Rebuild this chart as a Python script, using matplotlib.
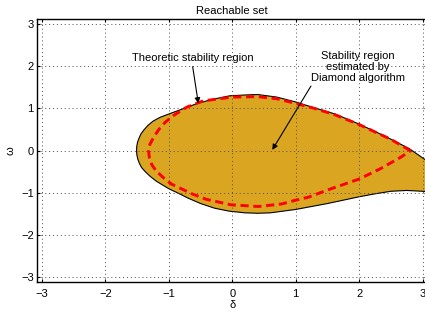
import matplotlib
matplotlib.use('Agg')
import matplotlib.pyplot as plt

plt.rcParams['font.family'] = ['Liberation Sans', 'DejaVu Sans']
plt.rcParams['font.size'] = 8

# Borde superior de la region alcanzable (izquierda -> derecha)
upper_x = [-1.51, -1.507, -1.495, -1.47, -1.44, -1.39, -1.33, -1.25, -1.14, -1.00,
           -0.80, -0.55, -0.30, -0.04, 0.21, 0.40, 0.70, 1.01, 1.26, 1.62,
           2.00, 2.40, 2.79, 3.05, 3.20]
upper_y = [0.00, 0.10, 0.20, 0.30, 0.40, 0.50, 0.60, 0.70, 0.79, 0.87,
           0.98, 1.12, 1.22, 1.30, 1.32, 1.33, 1.27, 1.15, 1.03, 0.87,
           0.63, 0.35, 0.05, -0.22, -0.33]

# Borde inferior de la region alcanzable
lower_x = [-1.51, -1.505, -1.49, -1.465, -1.43, -1.37, -1.30, -1.20, -1.00, -0.86,
           -0.70, -0.50, -0.28, -0.05, 0.20, 0.40, 0.60, 0.80, 1.00, 1.25,
           1.50, 1.75, 2.00, 2.25, 2.50, 2.75, 3.00, 3.20]
lower_y = [0.00, -0.10, -0.20, -0.30, -0.40, -0.50, -0.60, -0.72, -0.90, -1.00,
           -1.12, -1.25, -1.36, -1.43, -1.47, -1.48, -1.47, -1.43, -1.39, -1.32,
           -1.25, -1.17, -1.09, -1.02, -0.96, -0.94, -0.96, -0.98]

# Region de estabilidad estimada (Diamond), curva cerrada
est_x = [2.81, 2.50, 2.00, 1.62, 1.30, 1.00, 0.70, 0.40, 0.00, -0.25,
         -0.46, -0.72, -0.93, -1.06, -1.16, -1.24, -1.30, -1.32, -1.31, -1.27,
         -1.20, -1.10, -0.96, -0.62, -0.41, -0.02, 0.20, 0.41, 0.78, 1.00,
         1.20, 1.50, 2.00, 2.33, 2.65, 2.81]
est_y = [0.00, 0.27, 0.62, 0.85, 1.00, 1.12, 1.23, 1.28, 1.27, 1.22,
         1.18, 1.03, 0.83, 0.67, 0.50, 0.32, 0.15, 0.00, -0.15, -0.33,
         -0.48, -0.62, -0.79, -1.03, -1.15, -1.28, -1.30, -1.32, -1.26, -1.17,
         -1.10, -0.93, -0.67, -0.43, -0.16, 0.00]

ticks = [-3, -2, -1, 0, 1, 2, 3]

fig = plt.figure(figsize=(4.25, 3.09), dpi=100)
ax = fig.add_axes([0.0878, 0.0883, 0.9176, 0.8492])

poly_x = upper_x + lower_x[::-1]
poly_y = upper_y + lower_y[::-1]
ax.fill(poly_x, poly_y, facecolor='#DAA520', edgecolor='k', linewidth=0.8,
        joinstyle='round', zorder=1)
ax.plot(est_x, est_y, color='red', linewidth=2.1, dashes=(2.8, 1.6), zorder=2)

ax.set_xlim(-3.075, 3.075)
ax.set_ylim(-3.1, 3.11)
ax.set_xticks(ticks)
ax.set_yticks(ticks)
ax.set_axisbelow('line')
ax.grid(True, color='0.3', linestyle=(0, (1, 3)), linewidth=0.7)
ax.tick_params(direction='in', length=2.5, width=0.8, top=True, right=True,
               labelsize=8)
ax.tick_params(axis='x', pad=5)
ax.tick_params(axis='y', pad=2.5)
for s in ax.spines.values():
    s.set_linewidth(1.0)

ax.set_title('Reachable set', fontsize=8, pad=4)
ax.set_xlabel('δ', fontsize=8, labelpad=1)
ax.set_ylabel('ω', fontsize=8, labelpad=4)

ax.text(-0.625, 2.19, 'Theoretic stability region', ha='center', va='center', fontsize=8)
ax.annotate('', xy=(-0.536, 1.12), xytext=(-0.625, 1.99),
            arrowprops=dict(arrowstyle='-|>', color='k', lw=0.8, mutation_scale=8,
                            shrinkA=0, shrinkB=0))
ax.text(1.98, 1.98, 'Stability region\nestimated by\nDiamond algorithm',
        ha='center', va='center', fontsize=8, linespacing=1.15)
ax.annotate('', xy=(0.63, 0.02), xytext=(1.24, 1.53),
            arrowprops=dict(arrowstyle='-|>', color='k', lw=0.8, mutation_scale=8,
                            shrinkA=0, shrinkB=0))

fig.savefig('out.png', dpi=100)
